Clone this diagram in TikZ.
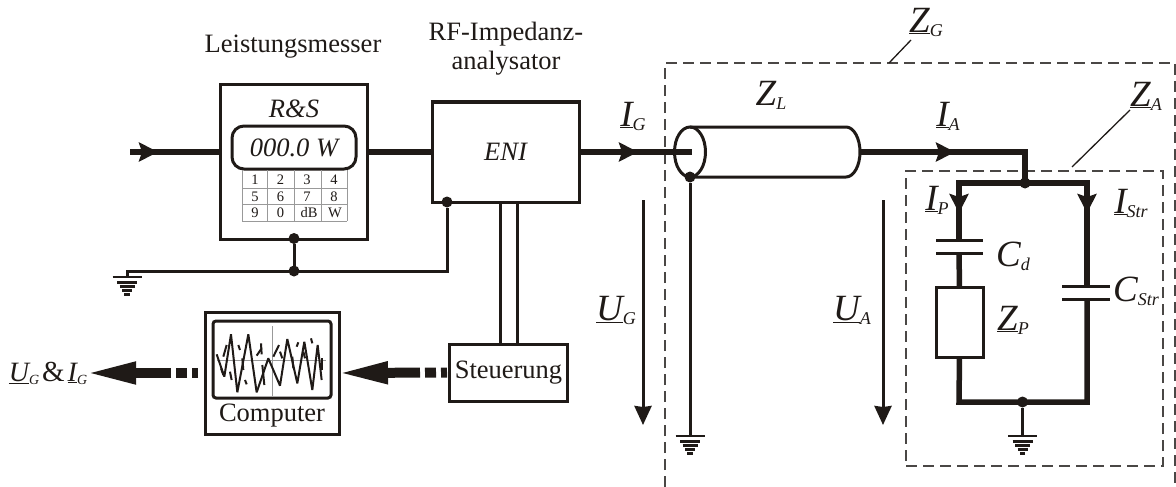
\documentclass[tikz,border=0pt]{standalone}
\usepackage{fontspec}
\setmainfont{Liberation Serif}
\usetikzlibrary{arrows.meta,shapes.geometric}
\definecolor{ink}{HTML}{1F1A17}
\definecolor{zonegray}{HTML}{4A4745}
\newcommand{\biglab}[2]{{\fontsize{37}{37}\selectfont\itshape\underline{#1}\raisebox{-4pt}{\fontsize{18}{18}\selectfont #2}}}
\newcommand{\plainlab}[2]{{\fontsize{37}{37}\selectfont\itshape #1\raisebox{-4pt}{\fontsize{18}{18}\selectfont #2}}}
\newcommand{\midlab}[2]{{\fontsize{28}{28}\selectfont\itshape\underline{#1}\raisebox{-3pt}{\fontsize{14}{14}\selectfont #2}}}
\tikzset{
	every node/.style={inner sep=0pt,outer sep=0pt,text=ink},
	txt/.style={font=\fontsize{26.5}{29}\selectfont,align=center},
	box/.style={draw=ink,line width=3pt,fill=white},
	mainwire/.style={draw=ink,line width=6pt},
	branch/.style={draw=ink,line width=5.5pt},
	wire/.style={draw=ink,line width=3pt},
	plate/.style={draw=ink,line width=3pt},
	leader/.style={draw=ink,line width=1.3pt},
	zone/.style={draw=zonegray,line width=1.6pt,dash pattern=on 11pt off 6pt},
	junction/.style={circle,fill=ink,minimum size=11pt},
	headarrow/.style={-{Stealth[length=19pt,width=19pt,inset=3pt]}},
	fatarrow/.style={draw=ink,line width=10pt,dash pattern=on 6pt off 5pt on 11pt off 5pt on 300pt off 0pt,-{Triangle[length=52pt,width=20pt]}},
	gnd/.pic={
		\foreach \ypos/\wid in {0/29,5.3/20,9.6/15,13.5/10,17.5/5.5}
			\draw[ink,line width=2.6pt] (-\wid/2,\ypos) -- (\wid/2,\ypos);
	}
}
\begin{document}
\begin{tikzpicture}[x=1pt,y=-1pt]
	\useasboundingbox (0,0) rectangle (1176,487);

	% zones
	\draw[zone] (665,487) -- (665,63) -- (1175,63) -- (1175,487);
	\node[zone,minimum width=257pt,minimum height=295pt] (zonea) at (1034.5,318.5) {};

	% titles
	\node[txt] (titlepm) at (293,47) {Leistungsmesser};
	\node[txt] (titleeni) at (506,49) {RF-Impedanz-\\analysator};

	% power meter
	\node[box,minimum width=147pt,minimum height=154pt] (pm) at (293.5,162) {};
	\node[txt,font=\fontsize{26.5}{29}\selectfont\itshape] (rs) at (294,109) {R\&S};
	\node[draw=ink,line width=3pt,rounded corners=12pt,minimum width=124pt,minimum height=43pt,txt,font=\fontsize{26.5}{29}\selectfont\itshape] (disp) at (294,147.5) {000.0 W};
	\foreach \xpos in {242,267,294,321,347}
		\draw[gray!80,line width=.8pt] (\xpos,170) -- (\xpos,221);
	\foreach \ypos in {188,204,221}
		\draw[gray!80,line width=.8pt] (242,\ypos) -- (347,\ypos);
	\foreach \xpos/\ypos/\keytext/\keyname in {
		255/180/1/a,280.5/180/2/b,307/180/3/c,334/180/4/d,
		255/196.5/5/e,280.5/196.5/6/f,307/196.5/7/g,334/196.5/8/h,
		255/213/9/i,280.5/213/0/j,309/213/dB/k,335/213/W/l}
		\node[font=\fontsize{14.5}{15}\selectfont] (key\keyname) at (\xpos,\ypos) {\keytext};

	% analyser
	\node[box,minimum width=147pt,minimum height=100pt] (eni) at (505.5,152) {};
	\node[txt,font=\fontsize{26.5}{29}\selectfont\itshape] (enitext) at (505.5,152) {ENI};

	% control and computer
	\node[box,minimum width=118pt,minimum height=57pt,txt] (steu) at (508.5,372.5) {Steuerung};
	\node[box,minimum width=134pt,minimum height=122pt] (comp) at (272,373) {};
	\node[draw=ink,line width=3pt,rounded corners=3pt,minimum width=118pt,minimum height=77pt] (screen) at (272,359.5) {};
	\node[txt] (comptext) at (272,416) {Computer};
	\draw[gray!80,line width=.7pt] (272,326) -- (272,396);
	\draw[gray!80,line width=.7pt] (217,360) -- (326,360);
	\begin{scope}[xshift=205pt,yshift=-315pt,x=.3333pt,y=-.3333pt]
		\draw[ink,line width=2pt,line join=bevel] (35,118) -- (58,185) -- (78,58) -- (97,232) -- (130,58) -- (155,232) -- (190,130) -- (225,212) -- (247,72) -- (277,205) -- (298,80) -- (322,225) -- (338,90) -- (350,195);
		\foreach \xa/\ya/\xb/\yb in {55/125/65/90,100/90/105/105,155/122/170/100,168/85/170/118,205/125/222/90,225/110/232/130,275/95/280/82,318/70/322/85,48/160/55/180,112/130/115/165,120/195/125/208,172/150/178/210,262/125/265/160,350/130/350/165,75/170/80/195,295/110/300/130}
			\draw[ink,line width=2pt] (\xa,\ya) -- (\xb,\yb);
	\end{scope}

	% output label
	\node (out) at (48,373) {\midlab{U}{G}\hspace{3pt}{\fontsize{29}{29}\selectfont\&}\hspace{3pt}\midlab{I}{G}};

	% main line
	\coordinate (in) at (130,152);
	\coordinate (intip) at (158,152);
	\coordinate (igtip) at (638,152);
	\coordinate (inner) at (692,152);
	\draw[mainwire] (in) -- (in -| pm.west);
	\draw[ink,line width=6pt,headarrow] (in) -- (intip);
	\draw[mainwire] (in -| pm.east) -- (eni.west);
	\draw[mainwire] (eni.east) -- (inner);
	\draw[ink,line width=6pt,headarrow] (eni.east) -- (igtip);

	% coax
	\node[draw=ink,line width=3pt,ellipse,minimum width=31pt,minimum height=50pt] (coaxin) at (690,152) {};
	\coordinate (coaxtop) at (846,127);
	\coordinate (coaxbot) at (846,177);
	\coordinate (coaxout) at (860,152);
	\draw[wire] (coaxin.north) -- (coaxtop) arc[start angle=90,end angle=-90,x radius=14pt,y radius=25pt] -- (coaxin.south);

	% load side
	\coordinate (iatip) at (955,152);
	\coordinate (corner) at (1025,152);
	\coordinate (split) at (1025,183);
	\coordinate (tl) at (959,183);
	\coordinate (tr) at (1087,183);
	\coordinate (bl) at (959,402);
	\coordinate (br) at (1087,402);
	\coordinate (iptip) at (959,213);
	\coordinate (istip) at (1087,213);
	\coordinate (cdt) at (959,240);
	\coordinate (cdb) at (959,253);
	\coordinate (cst) at (1087,286);
	\coordinate (csb) at (1087,299);
	\node[draw=ink,line width=3pt,minimum width=47pt,minimum height=70pt] (zp) at (959.5,322) {};
	\draw[mainwire] (coaxout) -- (corner) -- (split);
	\draw[ink,line width=6pt,headarrow] (coaxout) -- (iatip);
	\draw[branch] (cdt) -- (tl) -- (tr) -- (cst);
	\draw[ink,line width=5pt,headarrow] (tl) -- (iptip);
	\draw[ink,line width=5pt,headarrow] (tr) -- (istip);
	\draw[plate] (936,240) -- (983,240);
	\draw[plate] (936,253) -- (983,253);
	\draw[plate] (1062,286) -- (1110,286);
	\draw[plate] (1062,299) -- (1110,299);
	\draw[branch] (cdb) -- (zp.north);
	\draw[branch] (zp.south) -- (bl) -- (br) -- (csb);
	\node[junction] (jsplit) at (1025,183) {};
	\node[junction] (jbot) at (1022.5,402) {};

	% earth
	\coordinate (gndleft) at (127,277);
	\coordinate (gndrail) at (127,271);
	\coordinate (gndcoax) at (690,436);
	\coordinate (gndload) at (1022.5,436);
	\node[junction] (jpm) at (294,238.5) {};
	\node[junction] (jrail) at (294,271) {};
	\node[junction] (jeni) at (447,202) {};
	\node[junction] (jcoax) at (690,177) {};
	\draw[wire] (gndleft) -- (gndrail) -- (447,271) -- (jeni);
	\draw[wire] (jpm) -- (jrail);
	\draw[wire] (jcoax) -- (gndcoax);
	\draw[wire] (jbot) -- (gndload);
	\pic at (gndleft) {gnd};
	\pic at (gndcoax) {gnd};
	\pic at (gndload) {gnd};

	% control lines
	\draw[wire] (500,202) -- (500,344);
	\draw[wire] (517,202) -- (517,344);

	% data arrows
	\draw[fatarrow,shorten <=2.5pt,shorten >=-3pt] (steu.west) -- (comp.east);
	\draw[fatarrow,shorten <=7pt,shorten >=-3pt] (comp.west) -- (out.east);

	% voltage arrows
	\coordinate (ugtop) at (643,200);
	\coordinate (ugtip) at (643,425);
	\coordinate (uatop) at (883,200);
	\coordinate (uatip) at (883,425);
	\draw[ink,line width=3pt,-{Stealth[length=19pt,width=17pt,inset=1pt]}] (ugtop) -- (ugtip);
	\draw[ink,line width=3pt,-{Stealth[length=19pt,width=17pt,inset=1pt]}] (uatop) -- (uatip);

	% labels
	\node (lbig) at (633,116) {\biglab{I}{G}};
	\node (lbia) at (948,116) {\biglab{I}{A}};
	\node (lbip) at (937,200) {\biglab{I}{P}};
	\node (lbis) at (1131,203) {\biglab{I}{Str}};
	\node (lbug) at (616,310) {\biglab{U}{G}};
	\node (lbua) at (852,310) {\biglab{U}{A}};
	\node (lbzl) at (771,95) {\plainlab{Z}{L}};
	\node (lbzg) at (926,22) {\biglab{Z}{G}};
	\node (lbza) at (1146,96) {\biglab{Z}{A}};
	\node (lbzp) at (1013,320) {\biglab{Z}{P}};
	\node (lbcd) at (1013,256) {\plainlab{C}{d}};
	\node (lbcs) at (1136,291) {\plainlab{C}{Str}};
	\coordinate (zgfoot) at (889,63);
	\coordinate (zgarm) at (911,40);
	\coordinate (zafoot) at (1072,167);
	\coordinate (zaarm) at (1130,110);
	\draw[leader] (zgarm) -- (zgfoot);
	\draw[leader] (zaarm) -- (zafoot);
\end{tikzpicture}
\end{document}
